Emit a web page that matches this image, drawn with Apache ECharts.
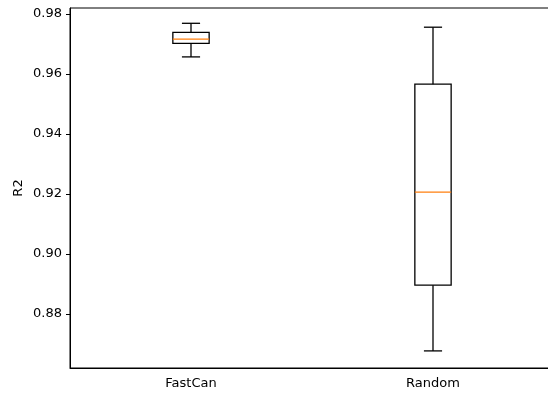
<!DOCTYPE html>
<html>
<head>
<meta charset="utf-8">
<script src="https://cdn.jsdelivr.net/npm/echarts@6/dist/echarts.min.js"></script>
<style>html,body{margin:0;padding:0;background:#fff;}#chart{width:548px;height:394px;}</style>
</head>
<body>
<div id="chart"></div>
<script>
const categories = ['FastCan', 'Random'];
const whiskerLow = [0.9657, 0.8677];
const q1 = [0.9702, 0.8896];
const median = [0.9716, 0.9206];
const q3 = [0.9739, 0.9566];
const whiskerHigh = [0.9769, 0.9756];
const yTicks = [0.88, 0.90, 0.92, 0.94, 0.96, 0.98];

const data = categories.map((c, i) => [i, whiskerLow[i], q1[i], median[i], q3[i], whiskerHigh[i]]);

const chart = echarts.init(document.getElementById('chart'), null, {renderer: 'canvas'});
const font = 'DejaVu Sans';
chart.setOption({
  animation: false,
  grid: {left: 70, top: 8, width: 484, height: 360, outerBoundsMode: 'none', containLabel: false,
    show: true, borderColor: '#000', borderWidth: 1, backgroundColor: 'transparent'},
  xAxis: {
    type: 'category', data: categories, boundaryGap: true,
    axisLine: {lineStyle: {color: '#000', width: 1}},
    axisTick: {alignWithLabel: true, length: 4, lineStyle: {color: '#000'}},
    axisLabel: {color: '#000', fontFamily: font, fontSize: 13, margin: 9},
    splitLine: {show: false}
  },
  yAxis: {
    type: 'value', min: 0.862, max: 0.982, name: 'R2', nameLocation: 'middle', nameGap: 45,
    nameMoveOverlap: false,
    nameTextStyle: {color: '#000', fontFamily: font, fontSize: 13},
    axisLine: {show: true, lineStyle: {color: '#000', width: 1}},
    axisTick: {show: true, length: 4, customValues: yTicks, lineStyle: {color: '#000'}},
    axisLabel: {color: '#000', fontFamily: font, fontSize: 13, margin: 8, customValues: yTicks,
      formatter: v => v.toFixed(2)},
    splitLine: {show: false}
  },
  series: [{
    type: 'custom',
    data: data,
    encode: {x: 0, y: [1, 2, 3, 4, 5]},
    renderItem: function (params, api) {
      const idx = api.value(0);
      const band = api.size([1, 0])[0];
      const bw = band * 0.15;
      const cw = bw / 2;
      const cx = api.coord([idx, api.value(1)])[0];
      const yLow = api.coord([idx, api.value(1)])[1];
      const yQ1 = api.coord([idx, api.value(2)])[1];
      const yMed = api.coord([idx, api.value(3)])[1];
      const yQ3 = api.coord([idx, api.value(4)])[1];
      const yHigh = api.coord([idx, api.value(5)])[1];
      const st = {stroke: '#000', lineWidth: 1.3, fill: null};
      return {
        type: 'group',
        children: [
          {type: 'rect', shape: {x: cx - bw / 2, y: yQ3, width: bw, height: yQ1 - yQ3}, style: {stroke: '#000', lineWidth: 1.3, fill: 'rgba(0,0,0,0)'}},
          {type: 'line', shape: {x1: cx, y1: yQ1, x2: cx, y2: yLow}, style: st},
          {type: 'line', shape: {x1: cx, y1: yQ3, x2: cx, y2: yHigh}, style: st},
          {type: 'line', shape: {x1: cx - cw / 2, y1: yLow, x2: cx + cw / 2, y2: yLow}, style: st},
          {type: 'line', shape: {x1: cx - cw / 2, y1: yHigh, x2: cx + cw / 2, y2: yHigh}, style: st},
          {type: 'line', shape: {x1: cx - bw / 2, y1: yMed, x2: cx + bw / 2, y2: yMed}, style: {stroke: '#ff7f0e', lineWidth: 1.3}}
        ]
      };
    }
  }]
});
</script>
</body>
</html>
